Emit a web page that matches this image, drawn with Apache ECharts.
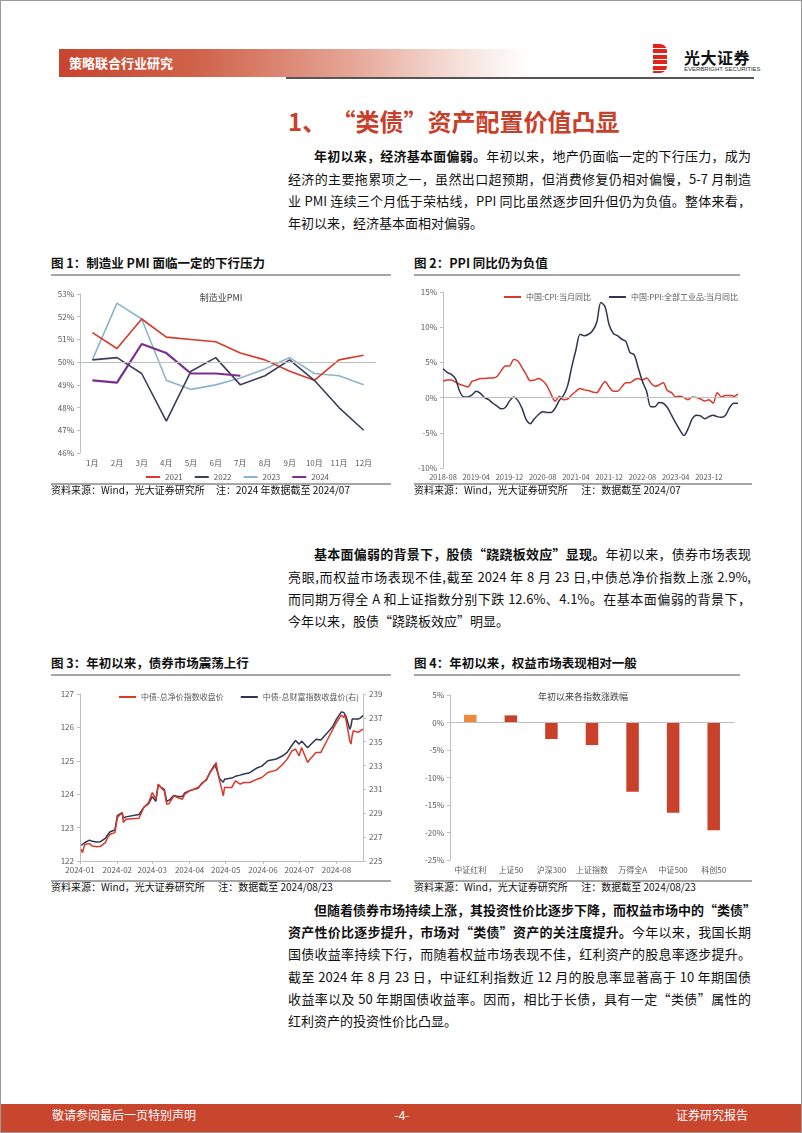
<!DOCTYPE html>
<html lang="zh-CN">
<head>
<meta charset="utf-8">
<script src="https://cdn.jsdelivr.net/npm/echarts@6/dist/echarts.min.js"></script>
<style>
html,body{margin:0;padding:0;background:#fff;}
#page{position:relative;width:802px;height:1133px;overflow:hidden;background:#fff;font-family:'Noto Sans CJK SC',sans-serif;color:#111;box-sizing:border-box;border:1px solid #9a9a9a;}
.abs{position:absolute;}
.ln{position:absolute;left:287px;width:463px;height:22px;line-height:22px;font-size:13px;white-space:nowrap;text-align:justify;text-align-last:justify;}
.ln.first{left:313px;width:437px;}
.ln.last{text-align-last:left;}
b{font-weight:700;}
.ftitle{position:absolute;font-size:12.5px;font-weight:700;line-height:16px;white-space:nowrap;color:#111;}
.rule{position:absolute;background:#a6a6a6;}
.src{position:absolute;font-size:10px;line-height:14px;white-space:nowrap;color:#111;}
.chart{position:absolute;}
</style>
</head>
<body>
<div id="page">
  <!-- header -->
  <div class="abs" style="left:58px;top:48px;width:470px;height:28px;background:linear-gradient(to right,#c8452e 0%,#d0634b 30%,#e5a595 62%,#f6e0da 85%,rgba(255,255,255,0) 100%);"></div>
  <div class="abs" style="left:68px;top:48px;line-height:28px;font-size:13px;font-weight:700;color:#fff;white-space:nowrap;">策略联合行业研究</div>
  <div class="abs" style="left:285px;top:76px;width:468px;height:2px;background:#555;"></div>
  <div class="abs" style="left:652px;top:43px;width:14px;height:29px;border-radius:0 7px 7px 0;background:repeating-linear-gradient(to bottom,#e2231a 0px,#e2231a 4px,#fff 4px,#fff 5.5px);"></div>
  <div class="abs" style="left:683px;top:46px;font-size:16px;font-weight:700;line-height:20px;color:#111;white-space:nowrap;letter-spacing:0.5px;">光大证券</div>
  <div class="abs" style="left:683px;top:64px;font-size:6px;line-height:8px;color:#333;white-space:nowrap;font-family:'Liberation Sans',sans-serif;">EVERBRIGHT SECURITIES</div>

  <!-- section title -->
  <div class="abs" style="left:287px;top:104px;font-size:24px;font-weight:700;line-height:32px;color:#c8402a;white-space:nowrap;">1、&nbsp;“类债”资产配置价值凸显</div>

  <!-- paragraph 1 -->
  <div class="ln first" style="top:144px;"><b>年初以来，经济基本面偏弱。</b>年初以来，地产仍面临一定的下行压力，成为</div>
  <div class="ln" style="top:167px;">经济的主要拖累项之一，虽然出口超预期，但消费修复仍相对偏慢，5-7 月制造</div>
  <div class="ln" style="top:189px;">业 PMI 连续三个月低于荣枯线，PPI 同比虽然逐步回升但仍为负值。整体来看，</div>
  <div class="ln last" style="top:211px;">年初以来，经济基本面相对偏弱。</div>

  <!-- figure 1 / 2 titles -->
  <div class="ftitle" style="left:50px;top:254px;">图 1：制造业 PMI 面临一定的下行压力</div>
  <div class="rule" style="left:50px;top:273px;width:340px;height:2px;"></div>
  <div class="ftitle" style="left:413px;top:254px;">图 2：PPI 同比仍为负值</div>
  <div class="rule" style="left:413px;top:273px;width:326px;height:2px;"></div>

  <div id="c1" class="chart" style="left:40px;top:280px;width:360px;height:200px;"></div>
  <div id="c2" class="chart" style="left:405px;top:280px;width:350px;height:205px;"></div>

  <div class="rule" style="left:50px;top:482px;width:340px;height:1.5px;"></div>
  <div class="rule" style="left:413px;top:482px;width:338px;height:1.5px;"></div>
  <div class="src" style="left:50px;top:482px;">资料来源：Wind，光大证券研究所&nbsp;&nbsp;&nbsp;&nbsp;&nbsp;注：2024 年数据截至 2024/07</div>
  <div class="src" style="left:413px;top:482px;">资料来源：Wind，光大证券研究所&nbsp;&nbsp;&nbsp;&nbsp;&nbsp;&nbsp;注：数据截至 2024/07</div>

  <!-- paragraph 2 -->
  <div class="ln first" style="top:542px;"><b>基本面偏弱的背景下，股债“跷跷板效应”显现。</b>年初以来，债券市场表现</div>
  <div class="ln" style="top:565px;">亮眼,而权益市场表现不佳,截至 2024 年 8 月 23 日,中债总净价指数上涨 2.9%,</div>
  <div class="ln" style="top:587px;">而同期万得全 A 和上证指数分别下跌 12.6%、4.1%。在基本面偏弱的背景下，</div>
  <div class="ln last" style="top:609px;">今年以来，股债“跷跷板效应”明显。</div>

  <!-- figure 3 / 4 titles -->
  <div class="ftitle" style="left:50px;top:654px;">图 3：年初以来，债券市场震荡上行</div>
  <div class="rule" style="left:50px;top:673px;width:340px;height:2px;"></div>
  <div class="ftitle" style="left:413px;top:654px;">图 4：年初以来，权益市场表现相对一般</div>
  <div class="rule" style="left:413px;top:673px;width:326px;height:2px;"></div>

  <div id="c3" class="chart" style="left:40px;top:682px;width:360px;height:196px;"></div>
  <div id="c4" class="chart" style="left:405px;top:682px;width:350px;height:196px;"></div>

  <div class="rule" style="left:50px;top:879px;width:340px;height:1.5px;"></div>
  <div class="rule" style="left:413px;top:879px;width:338px;height:1.5px;"></div>
  <div class="src" style="left:50px;top:879px;">资料来源：Wind，光大证券研究所&nbsp;&nbsp;&nbsp;&nbsp;&nbsp;&nbsp;注：数据截至 2024/08/23</div>
  <div class="src" style="left:413px;top:879px;">资料来源：Wind，光大证券研究所&nbsp;&nbsp;&nbsp;&nbsp;&nbsp;&nbsp;注：数据截至 2024/08/23</div>

  <!-- paragraph 3 -->
  <div class="ln first" style="top:898px;"><b>但随着债券市场持续上涨，其投资性价比逐步下降，而权益市场中的“类债”</b></div>
  <div class="ln" style="top:920px;"><b>资产性价比逐步提升，市场对“类债”资产的关注度提升。</b>今年以来，我国长期</div>
  <div class="ln" style="top:942px;">国债收益率持续下行，而随着权益市场表现不佳，红利资产的股息率逐步提升。</div>
  <div class="ln" style="top:965px;">截至 2024 年 8 月 23 日，中证红利指数近 12 月的股息率显著高于 10 年期国债</div>
  <div class="ln" style="top:987px;">收益率以及 50 年期国债收益率。因而，相比于长债，具有一定“类债”属性的</div>
  <div class="ln last" style="top:1009px;">红利资产的投资性价比凸显。</div>

  <!-- footer -->
  <div class="abs" style="left:0;top:1103px;width:802px;height:30px;background:#c8452e;"></div>
  <div class="abs" style="left:51px;top:1103px;line-height:22px;font-size:12px;color:#fff;white-space:nowrap;">敬请参阅最后一页特别声明</div>
  <div class="abs" style="left:381px;width:40px;top:1103px;line-height:22px;font-size:12px;color:#fff;text-align:center;">-4-</div>
  <div class="abs" style="left:675px;top:1103px;line-height:22px;font-size:12px;color:#fff;white-space:nowrap;">证券研究报告</div>
</div>

<script>
// ---------- Figure 1: manufacturing PMI ----------
const pmiMonths = ['1月','2月','3月','4月','5月','6月','7月','8月','9月','10月','11月','12月'];
const pmi2021 = [51.3, 50.6, 51.9, 51.1, 51.0, 50.9, 50.4, 50.1, 49.6, 49.2, 50.1, 50.3];
const pmi2022 = [50.1, 50.2, 49.5, 47.4, 49.6, 50.2, 49.0, 49.4, 50.1, 49.2, 48.0, 47.0];
const pmi2023 = [50.1, 52.6, 51.9, 49.2, 48.8, 49.0, 49.3, 49.7, 50.2, 49.5, 49.4, 49.0];
const pmi2024 = [49.2, 49.1, 50.8, 50.4, 49.5, 49.5, 49.4];
const pmiTicks = [46, 53, 1];

// ---------- Figure 2: CPI / PPI yoy ----------
const priceMonths = [];
(function(){ for (let y = 2018, m = 8; y < 2024 || (y === 2024 && m <= 7); ) { priceMonths.push(y + '-' + String(m).padStart(2,'0')); m++; if (m > 12) { m = 1; y++; } } })();
const cpiYoy = [2.3,2.5,2.5,2.2,1.9,
  1.7,1.5,2.3,2.5,2.7,2.7,2.8,2.8,3.0,3.8,4.5,4.5,
  5.4,5.2,4.3,3.3,2.4,2.5,2.7,2.4,1.7,0.5,-0.5,0.2,
  -0.3,-0.2,0.4,0.9,1.3,1.1,1.0,0.8,0.7,1.5,2.3,1.5,
  0.9,0.9,1.5,2.1,2.1,2.5,2.7,2.5,2.8,2.1,1.6,1.8,
  2.1,1.0,0.7,0.1,0.2,0.0,-0.3,0.1,0.0,-0.2,-0.5,-0.3,
  -0.8,0.7,0.1,0.3,0.3,0.2,0.5];
const ppiYoy = [4.1,3.6,3.3,2.7,0.9,
  0.1,0.1,0.4,0.9,0.6,0.0,-0.3,-0.8,-1.2,-1.6,-1.4,-0.5,
  0.1,-0.4,-1.5,-3.1,-3.7,-3.0,-2.4,-2.0,-2.1,-2.1,-1.5,-0.4,
  0.3,1.7,4.4,6.8,9.0,8.8,9.0,9.5,10.7,13.5,12.9,10.3,
  9.1,8.8,8.3,8.0,6.4,6.1,4.2,2.3,0.9,-1.3,-1.3,-0.7,
  -0.8,-1.4,-2.5,-3.6,-4.6,-5.4,-4.4,-3.0,-2.5,-2.6,-3.0,-2.7,
  -2.5,-2.7,-2.8,-2.5,-1.4,-0.8,-0.8];

// ---------- Figure 3: ChinaBond indices ----------
const bondDates = ['2024-01-02','2024-01-03','2024-01-05','2024-01-09','2024-01-11','2024-01-15','2024-01-18','2024-01-22','2024-01-24','2024-01-26','2024-01-30',
  '2024-02-01','2024-02-02','2024-02-05','2024-02-06','2024-02-08','2024-02-19','2024-02-23','2024-02-27',
  '2024-03-01','2024-03-04','2024-03-06','2024-03-08','2024-03-11','2024-03-13','2024-03-15','2024-03-19','2024-03-22','2024-03-26','2024-03-28',
  '2024-04-01','2024-04-08','2024-04-11','2024-04-15','2024-04-18','2024-04-22','2024-04-23','2024-04-25','2024-04-26','2024-04-29','2024-04-30',
  '2024-05-06','2024-05-09','2024-05-13','2024-05-16','2024-05-21','2024-05-27','2024-05-31',
  '2024-06-05','2024-06-12','2024-06-17','2024-06-21','2024-06-25','2024-06-28',
  '2024-07-01','2024-07-03','2024-07-08','2024-07-10','2024-07-15','2024-07-19','2024-07-24','2024-07-29',
  '2024-08-01','2024-08-05','2024-08-06','2024-08-07','2024-08-08','2024-08-09','2024-08-12','2024-08-13','2024-08-14','2024-08-15','2024-08-19','2024-08-21','2024-08-23'];
const netPriceIdx = [122.35,122.25,122.50,122.52,122.45,122.43,122.44,122.55,122.70,122.80,122.85,
  123.30,123.30,123.45,123.15,123.25,123.28,123.60,123.75,
  124.05,123.85,124.30,124.20,124.10,123.70,123.72,123.95,123.90,123.85,124.00,
  124.10,124.20,124.30,124.45,124.65,124.85,124.95,124.55,124.40,123.95,124.20,
  124.20,124.40,124.30,124.35,124.35,124.45,124.50,
  124.65,124.72,124.88,125.05,125.30,125.35,
  125.15,125.40,124.95,125.05,125.25,125.25,125.60,125.95,
  126.15,126.37,126.35,126.30,126.37,126.20,125.60,125.50,125.75,125.90,125.85,125.90,125.95];
const wealthIdx = [226.30,226.20,226.55,226.75,226.65,226.60,226.62,226.90,227.20,227.45,227.60,
  228.80,228.70,229.05,228.60,228.70,228.90,229.50,229.80,
  230.40,230.00,231.40,231.20,231.00,230.00,230.10,230.50,230.40,230.40,230.70,
  230.90,231.10,231.50,231.80,232.45,233.10,233.25,232.20,231.90,231.60,231.85,
  231.95,232.10,232.20,232.30,232.40,232.80,232.95,
  233.40,233.55,233.80,234.10,234.70,235.10,
  234.80,235.05,234.50,234.70,235.20,235.15,235.70,236.30,
  236.90,237.50,237.55,237.45,237.50,237.10,236.05,236.30,236.90,236.80,236.90,237.00,237.20];

// ---------- Figure 4: index returns YTD ----------
const idxNames = ['中证红利','上证50','沪深300','上证指数','万得全A','中证500','科创50'];
const idxReturns = [1.4, 1.3, -3.0, -4.1, -12.6, -16.4, -19.6];

const FONT = "'Noto Sans CJK SC', 'Noto Sans', sans-serif";
const AX = '#595959', LN = '#bfbfbf';
const RED = '#d8392b', NAVY = '#2f3552';

function yAxisBase(extra){
  return Object.assign({
    type:'value',
    axisLine:{show:true, lineStyle:{color:LN}},
    axisTick:{show:true, length:3, lineStyle:{color:LN}},
    splitLine:{show:false},
    axisLabel:{fontSize:8, color:AX, margin:6, fontFamily:FONT}
  }, extra);
}

// Chart 1
const c1 = echarts.init(document.getElementById('c1'), null, {renderer:'canvas', devicePixelRatio:1});
c1.setOption({
  animation:false,
  textStyle:{fontFamily:FONT},
  graphic:[{type:'text', x:180, y:17, style:{text:'制造业PMI', fontSize:9, fill:'#404040', fontFamily:FONT, textAlign:'center', textVerticalAlign:'middle'}}],
  legend:{left:100, top:187, icon:'rect', itemWidth:14, itemHeight:2, itemGap:12, textStyle:{fontSize:8, color:AX, fontFamily:FONT}, data:['2021','2022','2023','2024']},
  grid:{left:39, top:13, right:25, bottom:28, outerBoundsMode:'none'},
  xAxis:{type:'category', data:pmiMonths, boundaryGap:true, axisLine:{show:false}, axisTick:{show:false}, axisLabel:{fontSize:8, color:AX, margin:6, fontFamily:FONT, interval:0}},
  yAxis:yAxisBase({min:pmiTicks[0], max:pmiTicks[1], interval:pmiTicks[2], axisLabel:{fontSize:8, color:AX, margin:6, formatter:'{value}%', fontFamily:FONT}}),
  series:[
    {name:'2021', type:'line', data:pmi2021, symbol:'none', lineStyle:{width:1.6, color:'#d8392b'}, itemStyle:{color:'#d8392b'},
      markLine:{silent:true, symbol:'none', label:{show:false}, lineStyle:{color:LN, type:'solid', width:1}, data:[{yAxis:50}]}, z:3},
    {name:'2022', type:'line', data:pmi2022, symbol:'none', lineStyle:{width:1.6, color:'#3b3f5a'}, itemStyle:{color:'#3b3f5a'}, z:3},
    {name:'2023', type:'line', data:pmi2023, symbol:'none', lineStyle:{width:1.6, color:'#8db4cc'}, itemStyle:{color:'#8db4cc'}, z:2},
    {name:'2024', type:'line', data:pmi2024, symbol:'none', lineStyle:{width:2.2, color:'#7a2f8f'}, itemStyle:{color:'#7a2f8f'}, z:4}
  ]
});

// Chart 2
const c2 = echarts.init(document.getElementById('c2'), null, {renderer:'canvas', devicePixelRatio:1});
c2.setOption({
  animation:false,
  textStyle:{fontFamily:FONT},
  legend:{left:93, top:7, icon:'rect', itemWidth:17, itemHeight:2, itemGap:18, textStyle:{fontSize:8, color:AX, fontFamily:FONT}},
  grid:{left:37, top:11, right:18, bottom:18, outerBoundsMode:'none'},
  xAxis:{type:'category', data:priceMonths, boundaryGap:false, axisLine:{show:false}, axisTick:{show:false},
    axisLabel:{fontSize:7.5, color:AX, margin:5, interval:7, fontFamily:FONT}},
  yAxis:yAxisBase({min:-10, max:15, interval:5, axisLabel:{fontSize:8, color:AX, margin:6, formatter:'{value}%', fontFamily:FONT}}),
  series:[
    {name:'中国:CPI:当月同比', type:'line', data:cpiYoy, symbol:'none', smooth:0.3, lineStyle:{width:1.5, color:RED}, itemStyle:{color:RED},
      markLine:{silent:true, symbol:'none', label:{show:false}, lineStyle:{color:LN, type:'solid', width:1}, data:[{yAxis:0}]}},
    {name:'中国:PPI:全部工业品:当月同比', type:'line', data:ppiYoy, symbol:'none', smooth:0.3, lineStyle:{width:1.5, color:NAVY}, itemStyle:{color:NAVY}}
  ]
});

// Chart 3
const c3 = echarts.init(document.getElementById('c3'), null, {renderer:'canvas', devicePixelRatio:1});
const DAY = 86400000;
c3.setOption({
  animation:false,
  textStyle:{fontFamily:FONT},
  legend:{left:73, top:5, icon:'rect', itemWidth:17, itemHeight:2, itemGap:17, textStyle:{fontSize:8, color:AX, fontFamily:FONT}},
  grid:{left:39, top:11, right:38, bottom:18, outerBoundsMode:'none'},
  xAxis:{type:'time', min:'2024-01-01', max:'2024-08-23', minInterval:28*DAY, maxInterval:31*DAY, splitNumber:8,
    axisLine:{show:true, onZero:false, lineStyle:{color:LN}}, axisTick:{show:true, length:3, lineStyle:{color:LN}}, splitLine:{show:false},
    axisLabel:{fontSize:8, color:AX, margin:5, fontFamily:FONT, showMaxLabel:false,
      formatter:function(v){ const d = new Date(v); return d.getFullYear() + '-' + String(d.getMonth()+1).padStart(2,'0'); }}},
  yAxis:[
    yAxisBase({min:122, max:127, interval:1}),
    yAxisBase({min:225, max:239, interval:2, position:'right'})
  ],
  series:[
    {name:'中债-总净价指数收盘价', type:'line', yAxisIndex:0, data:bondDates.map((d,i)=>[d, netPriceIdx[i]]), symbol:'none', lineStyle:{width:1.5, color:RED}, itemStyle:{color:RED}, z:3},
    {name:'中债-总财富指数收盘价(右)', type:'line', yAxisIndex:1, data:bondDates.map((d,i)=>[d, wealthIdx[i]]), symbol:'none', lineStyle:{width:1.5, color:NAVY}, itemStyle:{color:NAVY}, z:2}
  ]
});

// Chart 4
const c4 = echarts.init(document.getElementById('c4'), null, {renderer:'canvas', devicePixelRatio:1});
c4.setOption({
  animation:false,
  textStyle:{fontFamily:FONT},
  graphic:[{type:'text', x:177, y:14, style:{text:'年初以来各指数涨跌幅', fontSize:9, fill:'#404040', fontFamily:FONT, textAlign:'center', textVerticalAlign:'middle'}}],
  grid:{left:44, top:12, right:22, bottom:19, outerBoundsMode:'none'},
  xAxis:{type:'category', data:idxNames, axisLine:{show:false, onZero:false}, axisTick:{show:false},
    axisLabel:{fontSize:8, color:AX, margin:6, fontFamily:FONT, interval:0, hideOverlap:false}},
  yAxis:yAxisBase({min:-25, max:5, interval:5, axisLabel:{fontSize:8, color:AX, margin:6, formatter:'{value}%', fontFamily:FONT}}),
  series:[
    {type:'bar', barWidth:12.5, data:idxReturns.map((v,i)=>({value:v, itemStyle:{color: i===0 ? '#ec8a3c' : '#c9412a'}})),
      markLine:{silent:true, symbol:'none', label:{show:false}, lineStyle:{color:LN, type:'solid', width:1}, data:[{yAxis:0}]}}
  ]
});
</script>
</body>
</html>
